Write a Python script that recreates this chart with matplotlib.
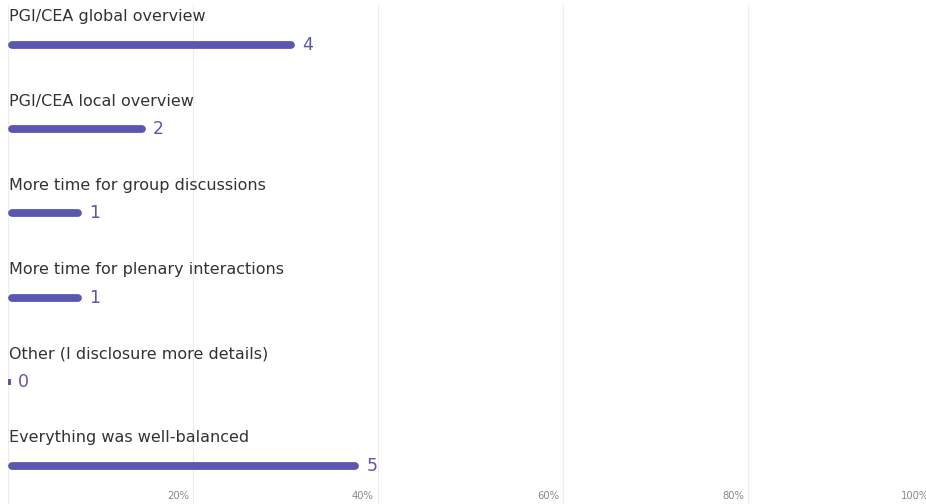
import matplotlib.pyplot as plt
from matplotlib.transforms import blended_transform_factory

plt.rcParams['font.family'] = ['DejaVu Sans']

categories = [
    'PGI/CEA global overview',
    'PGI/CEA local overview',
    'More time for group discussions',
    'More time for plenary interactions',
    'Other (I disclosure more details)',
    'Everything was well-balanced',
]
counts = [4, 2, 1, 1, 0, 5]
percents = [31.0, 14.9, 8.0, 8.0, 0.0, 38.0]
xticks = [20, 40, 60, 80, 100]
xtick_labels = ['20%', '40%', '60%', '80%', '100%']

bar_color = '#5b57b0'
text_color = '#333333'

fig = plt.figure(figsize=(9.26, 5.04), dpi=100)
ax = fig.add_axes([8 / 926, 0, 925 / 926, 499 / 504])
ax.set_xlim(0, 100)
ax.set_ylim(5.45, -0.475)
ax.axis('off')

# light vertical grid
for x in [0] + xticks:
    ax.axvline(x, color='#ececec', lw=0.8, zorder=0)

cap = 0.45  # rounded cap radius in % units (~4px)
for i, (cat, n, p) in enumerate(zip(categories, counts, percents)):
    ax.text(0.1, i - 0.335, cat, ha='left', va='center', fontsize=11.5,
            color=text_color)
    if p > 0:
        ax.hlines(i, cap, p - cap, color=bar_color, lw=5.6, capstyle='round')
    else:
        ax.barh(i, 0.25, left=0.05, height=0.075, color=bar_color)
    ax.annotate(str(n), (max(p, 0.3), i), xytext=(5, 0), textcoords='offset points',
                ha='left', va='center', fontsize=12.5, color=bar_color)

trans = blended_transform_factory(ax.transData, fig.transFigure)
for x, lab in zip(xticks, xtick_labels):
    ax.text(x - 0.45, 8 / 504, lab, transform=trans, ha='right', va='center',
            fontsize=7.2, color='#888888')

fig.savefig('out.png', dpi=100)
